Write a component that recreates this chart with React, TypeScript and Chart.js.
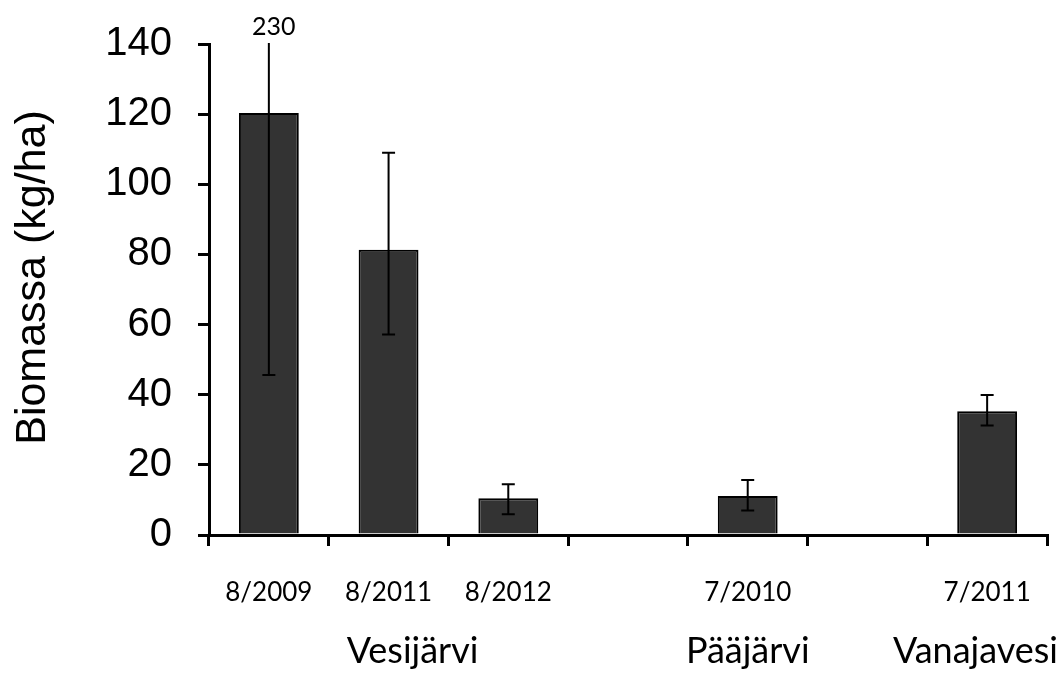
import React, { useEffect, useRef } from 'react';
import { Chart, registerables } from 'chart.js';

Chart.register(...registerables);

// ---- data ----
const categories: string[] = ['8/2009', '8/2011', '8/2012', '', '7/2010', '', '7/2011'];
const biomass: (number | null)[] = [120.3, 81.3, 10.5, null, 11.1, null, 35.3];
const errLow: (number | null)[] = [45.6, 57.2, 5.9, null, 7.0, null, 31.2];
const errHigh: (number | null)[] = [230, 109, 14.5, null, 15.7, null, 39.9];
const groupLabels: string[] = ['Vesijärvi', 'Pääjärvi', 'Vanajavesi'];
const groupAnchors: number[] = [1.2, 4, 6];
const yMin = 0;
const yMax = 140;
const yStep = 20;
const yTitle = 'Biomassa (kg/ha)';

const CAL = 'Lato, Carlito, Calibri, sans-serif';
const ARIAL = '"Liberation Sans", Arial, sans-serif';

const errorBarPlugin = {
  id: 'errorBars',
  afterDatasetsDraw(chart: any) {
    const { ctx, chartArea, scales } = chart;
    const xs = scales.x;
    const ys = scales.y;
    ctx.save();
    ctx.beginPath();
    ctx.rect(chartArea.left, chartArea.top - 1, chartArea.right - chartArea.left, chartArea.bottom - chartArea.top + 2);
    ctx.clip();
    ctx.strokeStyle = '#000';
    ctx.lineWidth = 2;
    const cap = 6.5;
    for (let i = 0; i < categories.length; i++) {
      const lo = errLow[i];
      const hi = errHigh[i];
      if (lo == null || hi == null) continue;
      const x = xs.getPixelForValue(i);
      const yl = ys.getPixelForValue(lo);
      const yh = ys.getPixelForValue(hi);
      ctx.beginPath();
      ctx.moveTo(x, yl);
      ctx.lineTo(x, yh);
      ctx.moveTo(x - cap, yl);
      ctx.lineTo(x + cap, yl);
      ctx.moveTo(x - cap, yh);
      ctx.lineTo(x + cap, yh);
      ctx.stroke();
    }
    ctx.restore();

    // labels for error bars exceeding the axis
    ctx.save();
    ctx.fillStyle = '#000';
    ctx.font = `25px ${CAL}`;
    ctx.textAlign = 'center';
    ctx.textBaseline = 'alphabetic';
    for (let i = 0; i < categories.length; i++) {
      const hi = errHigh[i];
      if (hi == null || hi <= yMax) continue;
      const x = xs.getPixelForValue(i);
      ctx.fillText(String(hi), x + 5, chartArea.top - 9);
    }
    ctx.restore();
  },
};

const textPlugin = {
  id: 'extraText',
  afterDraw(chart: any) {
    const { ctx, chartArea, scales, width } = chart;
    const xs = scales.x;
    ctx.save();
    ctx.fillStyle = '#000';
    ctx.font = `36px ${CAL}`;
    ctx.textAlign = 'center';
    ctx.textBaseline = 'alphabetic';
    groupLabels.forEach((lab, k) => {
      let x = xs.getPixelForValue(groupAnchors[k]);
      const w = ctx.measureText(lab).width;
      if (x + w / 2 > width - 6) x = width - 6 - w / 2;
      ctx.fillText(lab, x, chartArea.bottom + 128);
    });
    // y title
    ctx.font = `43px ${ARIAL}`;
    ctx.translate(33, (chartArea.top + chartArea.bottom) / 2 - 12);
    ctx.rotate(-Math.PI / 2);
    ctx.textBaseline = 'middle';
    ctx.fillText(yTitle, 0, 0);
    ctx.restore();
  },
};

export default function App() {
  const ref = useRef<HTMLCanvasElement | null>(null);
  useEffect(() => {
    if (!ref.current) return;
    const chart = new Chart(ref.current, {
      type: 'bar',
      data: {
        labels: categories,
        datasets: [
          {
            data: biomass as any,
            backgroundColor: '#333333',
            borderColor: '#000000',
            borderWidth: 2,
            barPercentage: 0.5,
            categoryPercentage: 1,
          },
        ],
      },
      options: {
        animation: false,
        responsive: true,
        maintainAspectRatio: false,
        layout: { padding: { top: 44, right: 17, left: 0, bottom: 0 } },
        plugins: { legend: { display: false }, tooltip: { enabled: false } },
        scales: {
          x: {
            grid: {
              display: true,
              drawOnChartArea: false,
              drawTicks: true,
              tickLength: 11,
              color: '#000',
              lineWidth: 3,
              offset: true,
            },
            border: { display: true, color: '#000', width: 3 },
            ticks: {
              color: '#000',
              font: { family: CAL, size: 26 },
              padding: 31,
              maxRotation: 0,
              autoSkip: false,
            },
            afterFit(scale: any) {
              scale.height = 142;
              scale.paddingLeft = 0;
              scale.paddingRight = 0;
            },
          },
          y: {
            min: yMin,
            max: yMax,
            grid: {
              display: true,
              drawOnChartArea: false,
              drawTicks: true,
              tickLength: 11,
              color: '#000',
              lineWidth: 3,
            },
            border: { display: true, color: '#000', width: 3 },
            ticks: {
              stepSize: yStep,
              color: '#000',
              font: { family: ARIAL, size: 40 },
              padding: 26,
            },
            afterFit(scale: any) {
              scale.width = 209;
              scale.paddingTop = 0;
              scale.paddingBottom = 0;
            },
          },
        },
      },
      plugins: [errorBarPlugin, textPlugin],
    });
    return () => chart.destroy();
  }, []);
  return (
    <div style={{ position: 'absolute', left: 0, top: 0, width: 1064, height: 677, background: '#fff' }}>
      <canvas ref={ref} />
    </div>
  );
}
